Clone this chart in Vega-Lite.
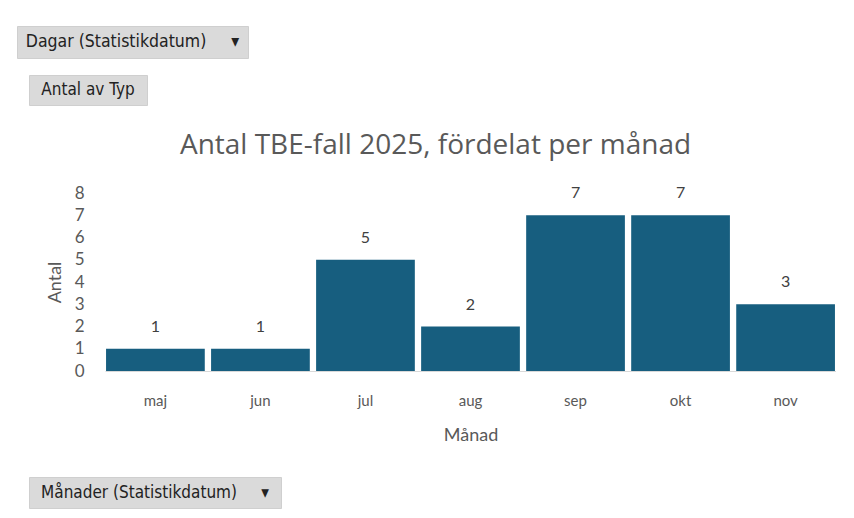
{
  "$schema": "https://vega.github.io/schema/vega-lite/v6.json",
  "padding": {"left": 16, "top": 25, "right": 0, "bottom": 0},
  "background": "white",
  "config": {
    "view": {"stroke": null},
    "font": "Lato"
  },
  "datasets": {
    "fall": [
      {"Månad": "maj", "Antal": 1},
      {"Månad": "jun", "Antal": 1},
      {"Månad": "jul", "Antal": 5},
      {"Månad": "aug", "Antal": 2},
      {"Månad": "sep", "Antal": 7},
      {"Månad": "okt", "Antal": 7},
      {"Månad": "nov", "Antal": 3}
    ],
    "knapp1": [{"t": "Dagar (Statistikdatum)\u00a0\u00a0\u00a0\u00a0\u00a0▾"}],
    "knapp2": [{"t": "Antal av Typ"}],
    "knapp3": [{"t": "Månader (Statistikdatum)\u00a0\u00a0\u00a0\u00a0\u00a0▾"}],
    "tom": [{"t": ""}]
  },
  "spacing": 26,
  "vconcat": [
    {
      "spacing": 15,
      "vconcat": [
        {
          "width": 231,
          "height": 32,
          "view": {"fill": "#dadada", "stroke": "#cfcfcf"},
          "data": {"name": "knapp1"},
          "mark": {"type": "text", "font": "DejaVu Sans Condensed", "fontSize": 17.5, "color": "#222222"},
          "encoding": {"text": {"field": "t"}}
        },
        {
          "spacing": 10,
          "hconcat": [
            {
              "width": 1,
              "height": 1,
              "data": {"name": "tom"},
              "mark": {"type": "rect", "opacity": 0},
              "encoding": {}
            },
            {
              "width": 118,
              "height": 30,
              "view": {"fill": "#dadada", "stroke": "#cfcfcf"},
              "data": {"name": "knapp2"},
              "mark": {"type": "text", "font": "DejaVu Sans Condensed", "fontSize": 17, "color": "#222222"},
              "encoding": {"text": {"field": "t"}}
            }
          ]
        }
      ]
    },
    {
      "spacing": 32,
      "vconcat": [
        {
          "spacing": 28,
          "hconcat": [
            {
              "width": 1,
              "height": 1,
              "data": {"name": "tom"},
              "mark": {"type": "rect", "opacity": 0},
              "encoding": {}
            },
            {
              "width": 731,
              "height": 178,
              "title": {
                "text": "Antal TBE-fall  2025, fördelat per månad",
                "fontSize": 28,
                "fontWeight": "normal",
                "color": "#595959",
                "font": "Open Sans",
                "anchor": "middle",
                "dx": -35,
                "offset": 24
              },
              "data": {"name": "fall"},
              "encoding": {
                "x": {
                  "field": "Månad",
                  "type": "nominal",
                  "sort": null,
                  "scale": {"paddingInner": 0.06, "paddingOuter": 0.01},
                  "axis": {
                    "labelAngle": 0,
                    "labelFontSize": 15,
                    "labelColor": "#595959",
                    "labelPadding": 22,
                    "ticks": false,
                    "domainColor": "#d9d9d9",
                    "titleFontSize": 18,
                    "titleFontWeight": "normal",
                    "titleColor": "#595959",
                    "titlePadding": 18
                  }
                },
                "y": {
                  "field": "Antal",
                  "type": "quantitative",
                  "scale": {"domain": [0, 8], "nice": false},
                  "axis": {
                    "values": [0, 1, 2, 3, 4, 5, 6, 7, 8],
                    "grid": false,
                    "domain": false,
                    "ticks": false,
                    "labelFontSize": 17,
                    "labelColor": "#595959",
                    "labelPadding": 21,
                    "titleFontSize": 18,
                    "titleFontWeight": "normal",
                    "titleColor": "#595959",
                    "titlePadding": 10
                  }
                }
              },
              "layer": [
                {"mark": {"type": "bar", "color": "#175e7f"}},
                {
                  "mark": {"type": "text", "dy": -22, "fontSize": 16, "color": "#404040"},
                  "encoding": {"text": {"field": "Antal", "type": "quantitative"}}
                }
              ]
            }
          ]
        },
        {
          "spacing": 10,
          "hconcat": [
            {
              "width": 1,
              "height": 1,
              "data": {"name": "tom"},
              "mark": {"type": "rect", "opacity": 0},
              "encoding": {}
            },
            {
              "width": 252,
              "height": 31,
              "view": {"fill": "#dadada", "stroke": "#cfcfcf"},
              "data": {"name": "knapp3"},
              "mark": {"type": "text", "font": "DejaVu Sans Condensed", "fontSize": 17, "color": "#222222"},
              "encoding": {"text": {"field": "t"}}
            }
          ]
        }
      ]
    }
  ]
}
